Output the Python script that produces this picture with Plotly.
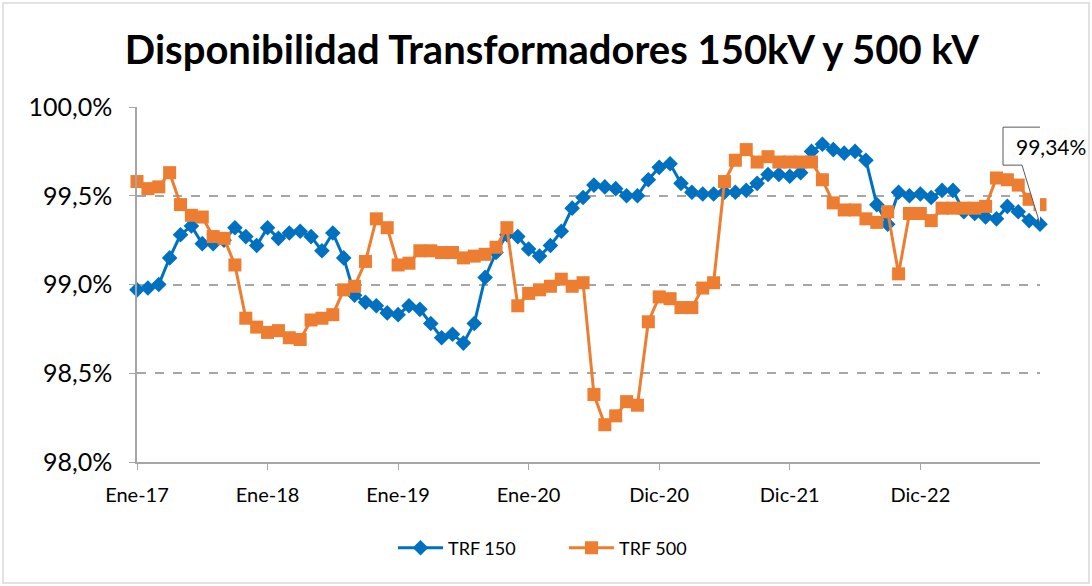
import plotly.graph_objects as go

# ---- data ----
tick_labels = ["Ene-17", "Ene-18", "Ene-19", "Ene-20", "Dic-20", "Dic-21", "Dic-22"]
tick_index = [0, 12, 24, 36, 48, 60, 72]

trf150 = [98.97, 98.98, 99.00, 99.15, 99.28, 99.33, 99.23, 99.23, 99.25, 99.32,
          99.27, 99.22, 99.32, 99.26, 99.29, 99.30, 99.27, 99.19, 99.29, 99.15,
          98.94, 98.90, 98.88, 98.84, 98.83, 98.88, 98.86, 98.78, 98.70, 98.72,
          98.67, 98.78, 99.04, 99.18, 99.28, 99.27, 99.20, 99.16, 99.22, 99.30,
          99.43, 99.49, 99.56, 99.55, 99.54, 99.50, 99.50, 99.59, 99.66, 99.68,
          99.57, 99.52, 99.51, 99.51, 99.52, 99.52, 99.53, 99.57, 99.62, 99.62,
          99.61, 99.63, 99.75, 99.79, 99.76, 99.74, 99.75, 99.70, 99.45, 99.34,
          99.52, 99.50, 99.51, 99.49, 99.53, 99.53, 99.41, 99.40, 99.38, 99.37,
          99.44, 99.41, 99.36, 99.34]

trf500 = [99.58, 99.54, 99.55, 99.63, 99.45, 99.39, 99.38, 99.27, 99.26, 99.11,
          98.81, 98.76, 98.73, 98.74, 98.70, 98.69, 98.80, 98.81, 98.83, 98.97,
          98.99, 99.13, 99.37, 99.32, 99.11, 99.12, 99.19, 99.19, 99.18, 99.18,
          99.15, 99.16, 99.17, 99.21, 99.32, 98.88, 98.95, 98.97, 98.99, 99.03,
          98.99, 99.01, 98.38, 98.21, 98.26, 98.34, 98.32, 98.79, 98.93, 98.92,
          98.87, 98.87, 98.98, 99.01, 99.58, 99.70, 99.76, 99.69, 99.72, 99.69,
          99.69, 99.69, 99.69, 99.59, 99.46, 99.42, 99.42, 99.37, 99.35, 99.41,
          99.06, 99.40, 99.40, 99.36, 99.43, 99.43, 99.43, 99.43, 99.44, 99.60,
          99.59, 99.56, 99.48, 99.45]

y_ticks = [98.0, 98.5, 99.0, 99.5, 100.0]
y_tick_text = ["98,0%", "98,5%", "99,0%", "99,5%", "100,0%"]
callout_text = "99,34%"

x = list(range(len(trf150)))

FONT = "Lato"
BLUE = "#0070C0"
ORANGE = "#ED7D31"

fig = go.Figure()
fig.add_trace(go.Scatter(
    x=x, y=trf150, name="TRF 150", mode="lines+markers",
    line=dict(color=BLUE, width=3),
    marker=dict(symbol="diamond", size=12, color=BLUE),
    cliponaxis=False,
))
fig.add_trace(go.Scatter(
    x=x, y=trf500, name="TRF 500", mode="lines+markers",
    line=dict(color=ORANGE, width=3),
    marker=dict(symbol="square", size=13, color=ORANGE),
    cliponaxis=False,
))

W, H = 1092, 586
L, R, T, B = 137, 52, 107, 124
pw, ph = W - L - R, H - T - B

fig.update_layout(
    width=W, height=H,
    margin=dict(l=L, r=R, t=T, b=B, autoexpand=False),
    paper_bgcolor="white", plot_bgcolor="white",
    font=dict(family=FONT, color="#000000", size=20),
    title=dict(text="<b>Disponibilidad Transformadores 150kV y 500 kV</b>",
               x=(552 - L) / pw, xref="paper", xanchor="center",
               y=1 - 50 / H, yanchor="middle",
               font=dict(family=FONT, size=40, color="#000000")),
    showlegend=True,
    legend=dict(orientation="h", x=(393 - L) / pw, xanchor="left",
                y=-(548 - (H - B)) / ph, yanchor="middle",
                font=dict(family=FONT, size=18), itemwidth=45,
                entrywidth=111, entrywidthmode="pixels",
                bgcolor="rgba(0,0,0,0)"),
)

fig.update_xaxes(
    automargin=False,
    range=[0, len(x) - 1],
    tickmode="array", tickvals=tick_index, ticktext=tick_labels,
    showgrid=False, zeroline=False,
    showline=True, linecolor="#A6A6A6", linewidth=1.5,
    ticks="outside", ticklen=6, tickcolor="#A6A6A6",
    ticklabelstandoff=8,
    tickfont=dict(family=FONT, size=20),
)
fig.update_yaxes(
    automargin=False,
    range=[98.0, 100.0],
    tickmode="array", tickvals=y_ticks, ticktext=y_tick_text,
    showgrid=True, gridcolor="#A6A6A6", griddash="dash", gridwidth=1.5,
    zeroline=False,
    showline=True, linecolor="#A6A6A6", linewidth=1.5,
    ticks="outside", ticklen=6, tickcolor="#A6A6A6",
    ticklabelstandoff=12,
    tickfont=dict(family=FONT, size=25),
)

# chart border
fig.add_shape(type="rect", xref="paper", yref="paper",
              x0=(3 - L) / pw, x1=(1089 - L) / pw,
              y0=-(583 - (H - B)) / ph, y1=1 + (T - 3) / ph,
              line=dict(color="#D9D9D9", width=1.5), fillcolor="rgba(0,0,0,0)",
              layer="below")

# callout for last TRF 150 value
last_i = len(trf150) - 1
fig.add_shape(type="path", xref="x", yref="y",
              xsizemode="pixel", ysizemode="pixel",
              xanchor=last_i, yanchor=trf150[-1],
              path="M -37,59 L -18,59 L 0,0 L 5,59 L 51,59 L 51,97 L -37,97 Z",
              fillcolor="white", line=dict(color="#595959", width=1))
fig.add_annotation(x=last_i, y=trf150[-1], xref="x", yref="y",
                   text=callout_text, showarrow=False,
                   xshift=11, yshift=78,
                   font=dict(family=FONT, size=21, color="#000000"))

fig.write_html("out.html",
               config={"displayModeBar": False},
               post_script="document.body.style.margin='0px';")
